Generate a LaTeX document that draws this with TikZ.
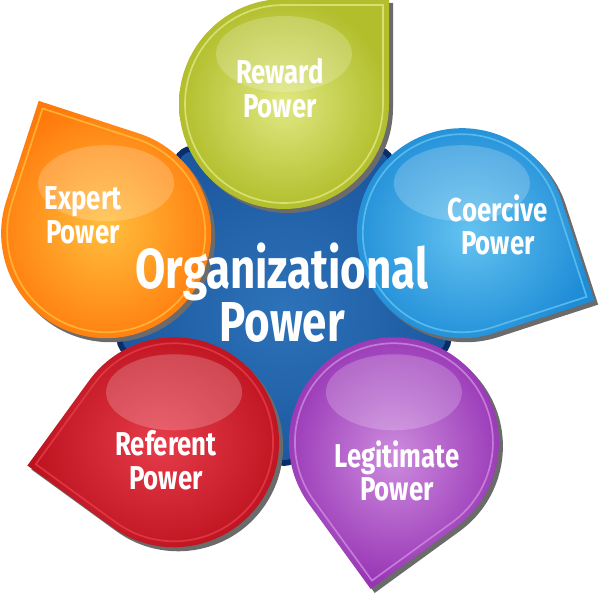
\documentclass[tikz,border=0pt]{standalone}
\usepackage{fontspec}
\newfontfamily\lblfont{Fira Sans}[FakeStretch=0.78]
\usetikzlibrary{calc}
\definecolor{hubblue}{RGB}{28,88,160}
\definecolor{hublight}{RGB}{45,115,185}
\definecolor{hubedge}{RGB}{10,45,105}
\definecolor{rewardc}{RGB}{178,190,44}
\definecolor{rewardl}{RGB}{224,232,130}
\definecolor{coercivec}{RGB}{30,140,215}
\definecolor{coercivel}{RGB}{100,195,240}
\definecolor{legitc}{RGB}{150,50,180}
\definecolor{legitl}{RGB}{205,140,222}
\definecolor{referentc}{RGB}{188,18,30}
\definecolor{referentl}{RGB}{230,60,75}
\definecolor{expertc}{RGB}{255,122,12}
\definecolor{expertl}{RGB}{255,190,60}
\tikzset{
  lbl/.style={text=white,align=center,inner sep=0pt,font=\lblfont\bfseries\fontsize{23.5}{24}\selectfont},
  biglbl/.style={lbl,font=\lblfont\bfseries\fontsize{40}{35}\selectfont},
  dropshadow/.style={fill=black!58,draw=none}
}

\begin{document}
\begin{tikzpicture}[x=0.025cm,y=0.025cm]
\useasboundingbox (0,0) rectangle (600,598);
\coordinate (ctr) at (284,307);

\path[draw=hubedge,line width=4pt,rounded corners=8,inner color=hublight,outer color=hubblue]
  ($(ctr)+(54:176)$) -- ($(ctr)+(-18:176)$) -- ($(ctr)+(-90:176)$)
  -- ($(ctr)+(-162:176)$) -- ($(ctr)+(126:176)$) -- cycle;

\foreach \i/\ang/\col in {1/90/reward,2/18/coercive,3/-54/legit,4/-126/referent,5/162/expert}{
  \pgfmathsetmacro\tip{\ang-45}
  \pgfmathsetmacro\sa{\ang}
  \coordinate (c\i) at ($(ctr)+(\ang:187)$);
  \coordinate (s\i) at ($(c\i)+(4,-4)$);
  \fill[dropshadow] (s\i) ++(\sa:105) arc[start angle=\sa,delta angle=270,radius=105]
    -- ($(s\i)+(\tip:148.5)$) -- cycle;
  \path[inner color=\col l,outer color=\col c] (c\i) ++(\sa:105)
    arc[start angle=\sa,delta angle=270,radius=105] -- ($(c\i)+(\tip:148.5)$) -- cycle;
  \begin{scope}
    \clip (c\i) ++(\sa:105) arc[start angle=\sa,delta angle=270,radius=105]
      -- ($(c\i)+(\tip:148.5)$) -- cycle;
    \fill[white,opacity=.2] ($(c\i)+(0,50)$) ellipse[x radius=68,y radius=38];
  \end{scope}
  \draw[\col l,line width=1.2pt,opacity=.8] (c\i) ++(\sa:99)
    arc[start angle=\sa,delta angle=270,radius=99] -- ($(c\i)+(\tip:140)$) -- cycle;
}

\foreach \nm/\x/\y/\txt in {reward/280/510/Reward,coercive/498/373/Coercive,
  legit/397/127/Legitimate,referent/166/138/Referent,expert/83/383/Expert}{
  \node[lbl] (\nm) at (\x,\y) {\txt\\Power};
}
\node[biglbl] (org) at (282,305) {Organizational\\Power};
\end{tikzpicture}
\end{document}
